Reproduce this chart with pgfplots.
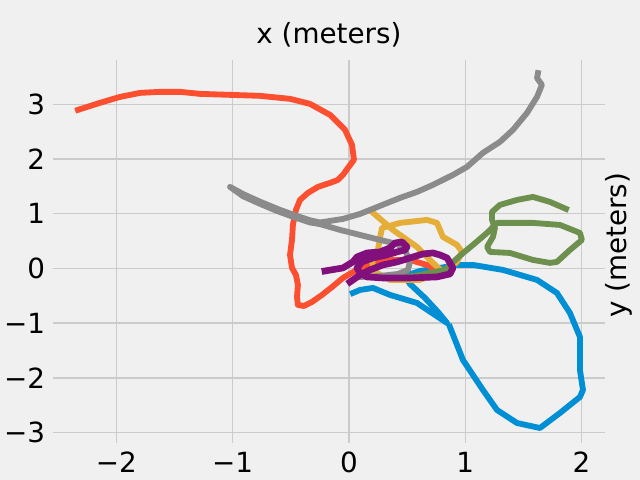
\documentclass[border=0pt]{standalone}
\usepackage{pgfplots}
\pgfplotsset{compat=1.18}
\usepackage{fontspec}
\setmainfont{DejaVu Sans}
\definecolor{bg}{HTML}{F0F0F0}
\definecolor{gridc}{HTML}{CBCBCB}
\definecolor{c1}{HTML}{008FD5}
\definecolor{c2}{HTML}{FC4F30}
\definecolor{c3}{HTML}{E5AE38}
\definecolor{c4}{HTML}{6D904F}
\definecolor{c5}{HTML}{8B8B8B}
\definecolor{c6}{HTML}{810F7C}
\begin{document}
\begin{tikzpicture}
\useasboundingbox[fill=bg] (-38.16pt,-26.64pt) rectangle ++(460.8pt,345.6pt);
\begin{axis}[
  at={(0,0)}, anchor=south west,
  scale only axis, width=397.4pt, height=275.8pt,
  xmin=-2.545, xmax=2.201, ymin=-3.19, ymax=3.81,
  axis line style={draw=none},
  major tick length=0pt,
  xtick={-2,-1,0,1,2}, xticklabels={−2,−1,0,1,2},
  ytick={-3,-2,-1,0,1,2,3}, yticklabels={−3,−2,−1,0,1,2,3},
  grid=major, grid style={color=gridc, line width=1pt},
  tick label style={font=\fontsize{20}{24}\selectfont, text=black, inner sep=0pt},
  xticklabel style={yshift=-6.5pt},
  yticklabel style={xshift=-5.5pt},
  title={x (meters)},
  title style={font=\fontsize{20}{24}\selectfont, at={(0.5,1)}, anchor=base, yshift=5.8pt, inner sep=0pt},
  ylabel={y (meters)},
  ylabel style={font=\fontsize{20}{24}\selectfont, at={(axis description cs:1,0.5)}, rotate=0, anchor=north, inner sep=0pt, xshift=4.5pt},
  every axis plot/.append style={line width=4.2pt, line join=round, line cap=rect},
]
% blue
\addplot[c1] coordinates {
(0.034,-0.448) (0.095,-0.393) (0.206,-0.356) (0.353,-0.484) (0.585,-0.631) (0.714,-0.814) (0.843,-0.996)
(0.765,-0.795) (0.653,-0.539) (0.524,-0.283) (0.482,-0.137) (0.610,-0.046) (0.782,0.009) (0.929,0.064)
(1.066,0.064) (1.324,-0.027) (1.617,-0.210) (1.788,-0.448) (1.900,-0.814) (1.986,-1.252) (1.986,-1.856)
(2.012,-2.221) (1.986,-2.349) (1.814,-2.642) (1.642,-2.916) (1.445,-2.825) (1.273,-2.587) (1.152,-2.221)
(0.980,-1.673) (0.868,-1.069)
};
% orange
\addplot[c2] coordinates {
(-2.330,2.898) (-2.141,3.026) (-1.969,3.135) (-1.797,3.208) (-1.625,3.227) (-1.453,3.227) (-1.281,3.190)
(-1.023,3.172) (-0.765,3.154) (-0.507,3.099) (-0.335,3.007) (-0.163,2.806) (-0.034,2.532) (0.026,2.258)
(0.043,1.984) (-0.009,1.837) (-0.052,1.709) (-0.095,1.618) (-0.163,1.563) (-0.267,1.490) (-0.353,1.380)
(-0.421,1.252) (-0.456,1.069) (-0.482,0.795) (-0.490,0.521) (-0.507,0.247) (-0.490,0.009) (-0.456,-0.119)
(-0.439,-0.302) (-0.447,-0.521) (-0.439,-0.667) (-0.387,-0.686) (-0.318,-0.612) (-0.232,-0.484)
(-0.140,-0.330) (-0.052,-0.174) (0.095,0.009) (0.241,0.101) (0.378,0.155) (0.524,0.155) (0.671,0.064)
(0.782,-0.064)
};
% yellow
\addplot[c3] coordinates {
(0.198,1.033) (0.378,0.704) (0.585,0.393) (0.722,0.101) (0.808,-0.064) (0.610,-0.210) (0.353,-0.210)
(0.224,-0.064) (0.198,0.119) (0.249,0.338) (0.267,0.558) (0.284,0.740) (0.439,0.832) (0.671,0.887)
(0.757,0.832) (0.808,0.576) (0.929,0.430) (0.972,0.302) (0.929,0.119) (0.868,0.009)
};
% green
\addplot[c4] coordinates {
(0.310,-0.174) (0.567,-0.137) (0.825,-0.027) (0.886,0.101) (0.972,0.265) (1.066,0.430) (1.187,0.649)
(1.238,0.759) (1.273,0.832) (1.582,0.832) (1.814,0.795) (1.986,0.649) (2.003,0.521) (1.900,0.338)
(1.788,0.119) (1.728,0.101) (1.582,0.155) (1.384,0.283) (1.212,0.302) (1.187,0.393) (1.238,0.576)
(1.255,0.740) (1.230,0.887) (1.230,1.033) (1.298,1.161) (1.445,1.252) (1.582,1.307) (1.728,1.216)
(1.866,1.088)
};
% gray
\addplot[c5] coordinates {
(1.625,3.570) (1.617,3.480) (1.659,3.355) (1.617,3.135) (1.531,2.843) (1.410,2.532) (1.298,2.313)
(1.152,2.112) (1.015,1.856) (0.894,1.709) (0.722,1.527) (0.585,1.399) (0.439,1.289) (0.267,1.143)
(0.095,0.996) (-0.052,0.905) (-0.249,0.840) (-0.335,0.880) (-0.421,0.940) (-0.593,1.070) (-0.765,1.220)
(-0.911,1.360) (-1.023,1.490) (-0.911,1.320) (-0.765,1.180) (-0.619,1.050) (-0.470,0.935) (-0.335,0.840)
(-0.249,0.810) (-0.077,0.704) (0.095,0.612)
(0.267,0.521) (0.413,0.448) (0.482,0.338) (0.524,0.119) (0.507,-0.027) (0.421,-0.101) (0.267,-0.137)
(0.112,-0.155)
};
% purple
\addplot[c6, line width=4.8pt] coordinates {
(-0.206,-0.046) (-0.052,0.009) (0.034,0.119) (0.069,0.210) (0.155,0.283) (0.267,0.302) (0.353,0.375)
(0.396,0.466) (0.456,0.484) (0.499,0.393) (0.482,0.338) (0.413,0.302) (0.327,0.247) (0.206,0.192)
(0.112,0.119) (0.069,0.009) (0.095,-0.082) (0.155,-0.155) (0.292,-0.174) (0.524,-0.174) (0.757,-0.155)
(0.868,-0.101) (0.894,0.009) (0.843,0.192) (0.782,0.247) (0.722,0.283) (0.636,0.265) (0.524,0.192)
(0.413,0.119) (0.292,0.064) (0.181,-0.027) (0.095,-0.119) (0.034,-0.210) (0.009,-0.247)
};
\end{axis}
\end{tikzpicture}
\end{document}
